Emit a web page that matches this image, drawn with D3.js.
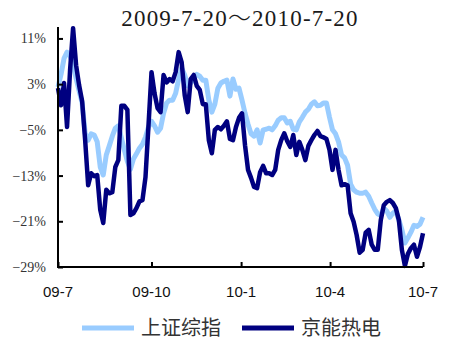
<!DOCTYPE html>
<html>
<head>
<meta charset="utf-8">
<script src="https://cdn.jsdelivr.net/npm/d3@7.9.0/dist/d3.min.js"></script>
<style>
  html, body { margin: 0; padding: 0; background: #fff; }
  svg { display: block; }
</style>
</head>
<body>
<div id="chart"></div>
<script>
// 上证综指 vs 京能热电, cumulative return (%), sampled along the trading days
const seriesNames = ['上证综指', '京能热电'];
const sseIndex = [
  2.5, 4.7, 7.5, 8.6, 7.9, 6.5, 4.0, 1.8, -0.3, -5.6,
  -6.8, -5.7, -5.9, -7.1, -11.5, -12.9, -9.4, -7.8, -6.1, -4.7,
  -4.3, -6.4, -8.5, -10.5, -11.9, -10.1, -9.2, -8.2, -7.5, -6.3,
  -4.5, -3.5, -4.3, -5.4, -4.7, -2.1, -0.3, 0.2, 0.2, 1.4,
  3.9, 5.8, 4.6, 2.7, 3.2, 3.9, 4.7, 4.4, 3.7, 3.7,
  0.2, -1.9, -0.5, 2.3, 3.2, 3.5, 3.7, 0.9, 3.9, 2.1,
  2.3, 0.2, -2.1, -4.0, -5.7, -6.1, -5.0, -7.3, -5.0, -4.9,
  -4.7, -5.0, -4.3, -3.3, -2.9, -2.9, -3.8, -3.5, -4.9, -5.0,
  -3.6, -2.8, -1.9, -1.4, -0.5, -0.1, -0.8, -0.7, -0.3, -0.3,
  -2.8, -5.0, -5.7, -7.1, -9.4, -9.9, -11.2, -14.5, -15.5, -15.9,
  -16.1, -16.1, -15.9, -16.6, -17.8, -18.9, -19.7, -20.0, -18.7, -19.2,
  -20.3, -19.6, -19.2, -20.8, -22.5, -24.8, -23.9, -22.9, -21.7, -21.9,
  -21.5, -20.3
];
const jnrd = [
  2.3, -0.7, 3.2, -4.5, 5.4, 12.8, 6.3, 2.8, 0.0, -6.8,
  -14.7, -12.6, -13.1, -12.9, -19.0, -21.3, -15.5, -16.1, -15.9, -11.5,
  -10.3, -0.8, -0.8, -1.5, -19.9, -19.6, -18.7, -17.5, -17.3, -13.3,
  -4.2, 5.1, 1.4, -1.2, -1.9, 4.6, 3.3, 3.9, 3.5, 5.1,
  8.6, 6.8, 1.1, -1.9, 3.9, 4.6, 2.7, 2.0, -0.5, -0.5,
  -6.8, -9.1, -5.0, -4.5, -4.9, -4.3, -3.5, -6.6, -6.8, -4.5,
  -2.9, -2.1, -7.7, -12.0, -13.4, -15.0, -15.2, -12.4, -11.3, -12.6,
  -12.6, -12.9, -12.0, -8.5, -6.8, -5.6, -7.0, -8.0, -5.9, -9.4,
  -7.1, -8.5, -10.3, -7.8, -6.8, -5.9, -5.2, -6.1, -6.3, -6.6,
  -8.5, -12.0, -8.5, -12.0, -14.7, -14.5, -14.7, -19.6, -21.1, -23.4,
  -26.5, -26.0, -23.0, -22.5, -25.1, -26.0, -26.0, -20.8, -18.2, -17.6,
  -17.3, -17.8, -18.7, -20.8, -26.0, -28.8, -26.7, -25.7, -25.1, -27.2,
  -25.5, -23.1
];
const yTicks = [-29, -21, -13, -5, 3, 11];
const yDomain = [-29, 13];
const xTickIdx = [0, 31, 60.7, 90.2, 121];
const xTickLabels = ['09-7', '09-10', '10-1', '10-4', '10-7'];
const titleParts = ['2009-7-20', '～', '2010-7-20'];

const W = 451, H = 340;
const M = {t: 27, r: 28, b: 73, l: 58};
const colors = ['#99ccff', '#000080'];

const svg = d3.select('#chart').append('svg')
  .attr('width', W).attr('height', H);

const x = d3.scaleLinear().domain([0, jnrd.length - 1]).range([M.l, W - M.r]);
const y = d3.scaleLinear().domain(yDomain).range([H - M.b, M.t]);

const t = svg.append('text')
  .attr('x', 240).attr('y', 26)
  .attr('text-anchor', 'middle')
  .style('font-family', '"Liberation Serif", "DejaVu Serif", serif')
  .style('font-size', '23px')
  .style('letter-spacing', '1.2px')
  .attr('fill', '#1a1a1a');
titleParts.forEach((s, i) => {
  t.append('tspan')
    .style('font-family', i === 1 ? '"Noto Sans CJK SC", sans-serif' : null)
    .style('font-weight', i === 1 ? 300 : null)
    .text(s);
});

const line = d3.line().x((d, i) => x(i)).y(d => y(d));

[sseIndex, jnrd].forEach((vals, k) => {
  svg.append('path')
    .datum(vals)
    .attr('d', line)
    .attr('fill', 'none')
    .attr('stroke', colors[k])
    .attr('stroke-width', k ? 4.5 : 5)
    .attr('stroke-linejoin', 'round');
});

// y axis: ticks point inward
const yAxis = svg.append('g')
  .attr('transform', `translate(${M.l},0)`)
  .call(d3.axisRight(y).tickValues(yTicks).tickSize(5).tickFormat(''));
yAxis.select('.domain').attr('stroke', '#000').attr('stroke-width', 2)
  .attr('d', `M0,${M.t}V${H - M.b}`);
yAxis.selectAll('.tick line').attr('stroke', '#000').attr('stroke-width', 2);

svg.append('g').selectAll('text')
  .data(yTicks)
  .join('text')
    .attr('x', 46).attr('y', d => y(d) + 5)
    .attr('text-anchor', 'end')
    .style('font-family', '"Liberation Serif", "DejaVu Serif", serif')
    .style('font-size', '14px')
    .attr('fill', '#333')
    .text(d => (d < 0 ? '\u2212' + Math.abs(d) : d) + '%');

// x axis: ticks point up
const xAxis = svg.append('g')
  .attr('transform', `translate(0,${H - M.b})`)
  .call(d3.axisTop(x).tickValues(xTickIdx).tickSize(5).tickFormat(''));
xAxis.select('.domain').attr('stroke', '#000').attr('stroke-width', 2)
  .attr('d', `M${M.l - 1},0H${W - M.r}`);
xAxis.selectAll('.tick line').attr('stroke', '#000').attr('stroke-width', 2);

svg.append('g').selectAll('text')
  .data(xTickIdx)
  .join('text')
    .attr('x', d => x(d)).attr('y', 297)
    .attr('text-anchor', 'middle')
    .style('font-family', '"Liberation Sans", Arial, sans-serif')
    .style('font-size', '15px')
    .attr('fill', '#111')
    .text((d, i) => xTickLabels[i]);

// legend
const legend = svg.append('g');
const legendX = [82, 242];
seriesNames.forEach((name, k) => {
  legend.append('line')
    .attr('x1', legendX[k]).attr('x2', legendX[k] + 52)
    .attr('y1', 328).attr('y2', 328)
    .attr('stroke', colors[k]).attr('stroke-width', 5);
  legend.append('text')
    .attr('x', legendX[k] + 59).attr('y', 335)
    .style('font-family', '"Noto Sans CJK SC", sans-serif')
    .style('font-size', '20px')
    .attr('fill', '#333')
    .text(name);
});
</script>
</body>
</html>
